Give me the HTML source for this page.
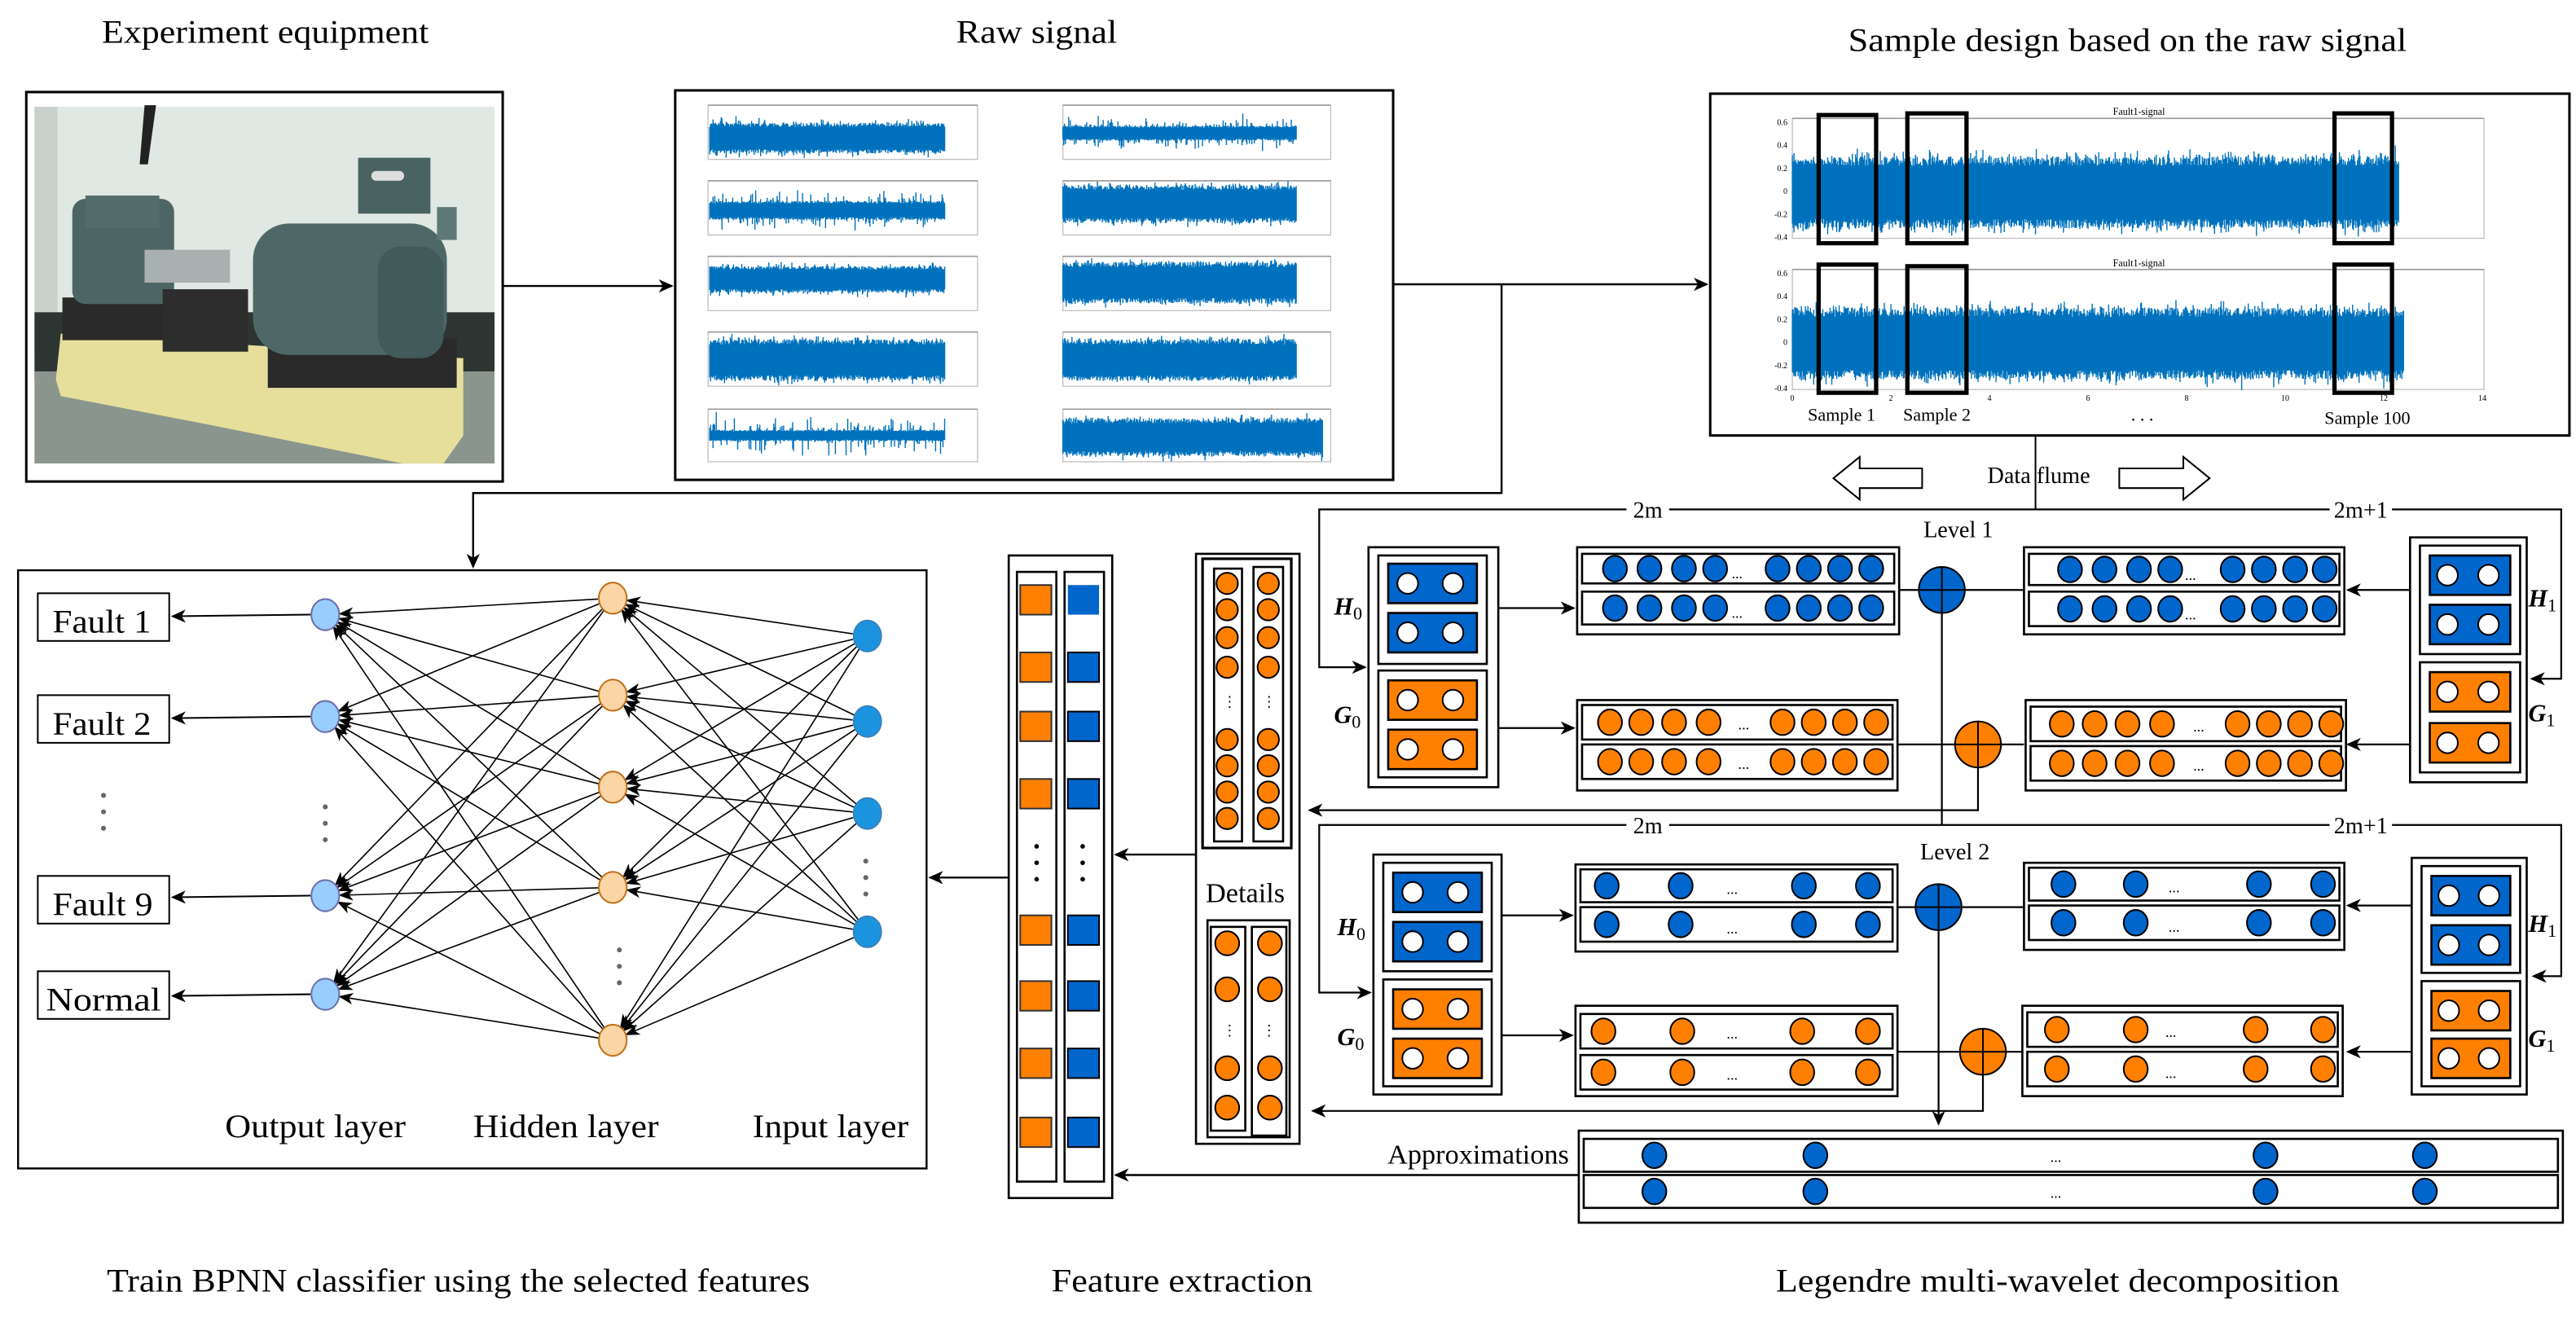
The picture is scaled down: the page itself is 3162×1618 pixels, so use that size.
<!DOCTYPE html>
<html><head><meta charset="utf-8">
<style>
html,body{margin:0;padding:0;background:#fff;width:3162px;height:1618px;overflow:hidden}
svg{display:block}
text{font-family:"Liberation Serif",serif;fill:#000}
</style></head>
<body>
<svg id="s" width="3162" height="1618" viewBox="0 0 1568 802" preserveAspectRatio="none" xmlns="http://www.w3.org/2000/svg">
<defs>
<marker id="a" markerUnits="userSpaceOnUse" markerWidth="10" markerHeight="10" refX="8" refY="4" orient="auto">
<path d="M0,0 L9,4 L0,8 L2.5,4 Z" fill="#000"/></marker>
<marker id="b" markerUnits="userSpaceOnUse" markerWidth="10" markerHeight="10" refX="8" refY="4" orient="auto">
<path d="M0,0.5 L9,4 L0,7.5 L2.5,4 Z" fill="#000"/></marker>
</defs>
<rect width="1568" height="802" fill="#fff"/>

<!-- Titles -->
<text x="62" y="26" font-size="20" textLength="199" lengthAdjust="spacingAndGlyphs">Experiment equipment</text>
<text x="582" y="26" font-size="20" textLength="98" lengthAdjust="spacingAndGlyphs">Raw signal</text>
<text x="1125" y="31" font-size="20" textLength="340" lengthAdjust="spacingAndGlyphs">Sample design based on the raw signal</text>
<text x="65" y="786" font-size="20" textLength="428" lengthAdjust="spacingAndGlyphs">Train BPNN classifier using the selected features</text>
<text x="640" y="786" font-size="20" textLength="159" lengthAdjust="spacingAndGlyphs">Feature extraction</text>
<text x="1081" y="786" font-size="20" textLength="343" lengthAdjust="spacingAndGlyphs">Legendre multi-wavelet decomposition</text>

<!-- Photo -->
<rect x="16" y="56" width="290" height="237" fill="#fff" stroke="#000" stroke-width="1.5"/>
<g id="photo">
<rect x="21" y="65" width="280" height="217" fill="#dfe8e2"/>
<rect x="21" y="65" width="14" height="150" fill="#c9d1cc"/>
<rect x="21" y="190" width="280" height="40" fill="#2c3532"/>
<rect x="21" y="226" width="280" height="56" fill="#8a958e"/>
<polygon points="88,64 95,64 90,100 85,100" fill="#222"/>
<polygon points="34,231 37,203 282,218 282,265 270,282 245,282 125,258 37,241" fill="#e6df9c"/>
<rect x="38" y="181" width="63" height="26" fill="#2a2a2a"/>
<rect x="44" y="121" width="62" height="64" rx="8" fill="#4d6665"/>
<rect x="52" y="119" width="45" height="20" fill="#536d6c"/>
<rect x="88" y="152" width="52" height="20" fill="#a9b0b0"/>
<rect x="99" y="176" width="52" height="38" fill="#2d2d2d"/>
<rect x="163" y="206" width="115" height="30" fill="#2a2a2a"/>
<rect x="154" y="136" width="118" height="80" rx="22" fill="#4f6867"/>
<rect x="230" y="150" width="40" height="68" rx="14" fill="#425a59"/>
<rect x="218" y="96" width="44" height="34" fill="#4a6362"/>
<rect x="226" y="104" width="20" height="6" rx="3" fill="#ddd"/>
<rect x="266" y="126" width="12" height="20" fill="#5f7877"/>
</g>
<line x1="306" y1="174" x2="409" y2="174" stroke="#000" stroke-width="1.2" marker-end="url(#a)"/>

<!-- Raw signal -->
<rect x="411" y="55" width="437" height="237" fill="#fff" stroke="#000" stroke-width="1.5"/>
<g id="raw"></g>

<!-- Sample design -->
<rect x="1041" y="57" width="523" height="208" fill="#fff" stroke="#000" stroke-width="1.5"/>
<g id="samp"></g>
<text x="1302" y="70" font-size="6" text-anchor="middle" fill="#333">Fault1-signal</text>
<text x="1302" y="162" font-size="6" text-anchor="middle" fill="#333">Fault1-signal</text>
<g fill="none" stroke="#000" stroke-width="2.6">
<rect x="1107" y="70" width="35" height="78"/><rect x="1161" y="69" width="36" height="79"/><rect x="1421" y="69" width="35" height="79"/>
<rect x="1107" y="161" width="35" height="78"/><rect x="1161" y="162" width="36" height="77"/><rect x="1421" y="161" width="35" height="78"/>
</g>
<g font-size="11">
<text x="1121" y="256" text-anchor="middle">Sample 1</text>
<text x="1179" y="256" text-anchor="middle">Sample 2</text>
<text x="1304" y="256" text-anchor="middle">. . .</text>
<text x="1441" y="258" text-anchor="middle">Sample 100</text>
</g>
<line x1="848" y1="173" x2="1039" y2="173" stroke="#000" stroke-width="1.2" marker-end="url(#a)"/>
<polyline points="914,173 914,300 288,300 288,345" fill="none" stroke="#000" stroke-width="1.2" marker-end="url(#a)"/>
<line x1="1239" y1="265" x2="1239" y2="310" stroke="#000" stroke-width="1"/>
<text x="1241" y="294" font-size="14" text-anchor="middle">Data flume</text>
<polygon points="1116,291 1132,278 1132,285 1170,285 1170,297 1132,297 1132,304" fill="#fff" stroke="#000" stroke-width="1"/>
<polygon points="1345,291 1329,278 1329,285 1290,285 1290,297 1329,297 1329,304" fill="#fff" stroke="#000" stroke-width="1"/>

<!-- BPNN -->
<rect x="11" y="347" width="553" height="364" fill="#fff" stroke="#000" stroke-width="1.2"/>
<g id="nn"></g>
<g font-size="19" fill="#fff" stroke="#000" stroke-width="1">
<rect x="23" y="361" width="80" height="29"/><rect x="23" y="423" width="80" height="29"/>
<rect x="23" y="533" width="80" height="29"/><rect x="23" y="591" width="80" height="29"/>
</g>
<g font-size="20">
<text x="32" y="385" textLength="60" lengthAdjust="spacingAndGlyphs">Fault 1</text>
<text x="32" y="447" textLength="60" lengthAdjust="spacingAndGlyphs">Fault 2</text>
<text x="32" y="557" textLength="61" lengthAdjust="spacingAndGlyphs">Fault 9</text>
<text x="28" y="615" textLength="70" lengthAdjust="spacingAndGlyphs">Normal</text>
<text x="137" y="692" textLength="110" lengthAdjust="spacingAndGlyphs">Output layer</text>
<text x="288" y="692" textLength="113" lengthAdjust="spacingAndGlyphs">Hidden layer</text>
<text x="458" y="692" textLength="95" lengthAdjust="spacingAndGlyphs">Input layer</text>
</g>
<g fill="#666">
<circle cx="63" cy="484" r="1.5"/><circle cx="63" cy="494" r="1.5"/><circle cx="63" cy="504" r="1.5"/>
<circle cx="198" cy="491" r="1.5"/><circle cx="198" cy="501" r="1.5"/><circle cx="198" cy="511" r="1.5"/>
<circle cx="377" cy="578" r="1.5"/><circle cx="377" cy="588" r="1.5"/><circle cx="377" cy="598" r="1.5"/>
<circle cx="527" cy="524" r="1.5"/><circle cx="527" cy="534" r="1.5"/><circle cx="527" cy="544" r="1.5"/>
</g>
<line x1="619" y1="534" x2="566" y2="534" stroke="#000" stroke-width="1.2" marker-end="url(#a)"/>

<!-- Feature extraction -->
<rect x="614" y="338" width="63" height="391" fill="#fff" stroke="#000" stroke-width="1.3"/>
<rect x="619" y="348" width="24" height="371" fill="#fff" stroke="#000" stroke-width="1.3"/>
<rect x="648" y="348" width="24" height="371" fill="#fff" stroke="#000" stroke-width="1.3"/>
<g id="feat"></g>
<g fill="#000"><circle cx="631" cy="515" r="1.4"/><circle cx="631" cy="525" r="1.4"/><circle cx="631" cy="535" r="1.4"/>
<circle cx="659" cy="515" r="1.4"/><circle cx="659" cy="525" r="1.4"/><circle cx="659" cy="535" r="1.4"/></g>
<line x1="728" y1="520" x2="679" y2="520" stroke="#000" stroke-width="1.2" marker-end="url(#a)"/>
<line x1="961" y1="715" x2="679" y2="715" stroke="#000" stroke-width="1.2" marker-end="url(#a)"/>

<!-- Details -->
<rect x="728" y="337" width="63" height="359" fill="#fff" stroke="#000" stroke-width="1.3"/>
<rect x="732" y="340" width="54" height="176" fill="#fff" stroke="#000" stroke-width="1.6"/>
<rect x="739" y="346" width="17" height="166" fill="#fff" stroke="#000" stroke-width="1.3"/>
<rect x="763" y="345" width="18" height="167" fill="#fff" stroke="#000" stroke-width="1.3"/>
<rect x="735" y="560" width="50" height="132" fill="#fff" stroke="#000" stroke-width="1.3"/>
<rect x="737" y="564" width="21" height="124" fill="#fff" stroke="#000" stroke-width="1.3"/>
<rect x="762" y="564" width="21" height="127" fill="#fff" stroke="#000" stroke-width="1.3"/>
<g id="det"></g>
<text x="758" y="549" font-size="17" text-anchor="middle">Details</text>
<g font-size="9"><text x="744" y="430">⋮</text><text x="768" y="430">⋮</text><text x="744" y="630">⋮</text><text x="768" y="630">⋮</text></g>

<!-- Wavelet -->
<g id="wv"></g>
<g font-size="14">
<rect x="990" y="303" width="26" height="12" fill="#fff"/>
<rect x="1418" y="303" width="38" height="12" fill="#fff"/>
<rect x="990" y="495" width="26" height="12" fill="#fff"/>
<rect x="1418" y="495" width="38" height="12" fill="#fff"/>
<text x="1003" y="315" text-anchor="middle">2m</text>
<text x="1437" y="315" text-anchor="middle">2m+1</text>
<text x="1192" y="327" text-anchor="middle">Level 1</text>
<text x="1003" y="507" text-anchor="middle">2m</text>
<text x="1437" y="507" text-anchor="middle">2m+1</text>
<text x="1190" y="523" text-anchor="middle">Level 2</text>
</g>
<g font-size="15" font-weight="bold" font-style="italic">
<text x="812" y="374">H<tspan font-size="11" font-style="normal" font-weight="normal" dy="3">0</tspan></text>
<text x="812" y="440">G<tspan font-size="11" font-style="normal" font-weight="normal" dy="3">0</tspan></text>
<text x="1539" y="369">H<tspan font-size="11" font-style="normal" font-weight="normal" dy="3">1</tspan></text>
<text x="1539" y="439">G<tspan font-size="11" font-style="normal" font-weight="normal" dy="3">1</tspan></text>
<text x="814" y="569">H<tspan font-size="11" font-style="normal" font-weight="normal" dy="3">0</tspan></text>
<text x="814" y="636">G<tspan font-size="11" font-style="normal" font-weight="normal" dy="3">0</tspan></text>
<text x="1539" y="567">H<tspan font-size="11" font-style="normal" font-weight="normal" dy="3">1</tspan></text>
<text x="1539" y="637">G<tspan font-size="11" font-style="normal" font-weight="normal" dy="3">1</tspan></text>
</g>
<g font-size="9" fill="#333">
<text x="1054" y="352">...</text><text x="1054" y="376">...</text><text x="1058" y="444">...</text><text x="1058" y="468">...</text>
<text x="1330" y="353">...</text><text x="1330" y="377">...</text><text x="1335" y="445">...</text><text x="1335" y="469">...</text>
<text x="1051" y="544">...</text><text x="1051" y="568">...</text><text x="1051" y="632">...</text><text x="1051" y="657">...</text>
<text x="1320" y="543">...</text><text x="1320" y="567">...</text><text x="1318" y="631">...</text><text x="1318" y="656">...</text>
<text x="1248" y="707">...</text><text x="1248" y="729">...</text>
</g>
<text x="955" y="708" font-size="17" text-anchor="end">Approximations</text>
</svg>
<script>
const NS="http://www.w3.org/2000/svg";
function el(p,t,a){const e=document.createElementNS(NS,t);for(const k in a)e.setAttribute(k,a[k]);p.insertBefore(e,null);return e;}
let seed=7;function rnd(){seed=(seed*16807)%2147483647;return seed/2147483647;}
function gauss(){return (rnd()+rnd()+rnd()+rnd()-2)/2;}
function wave(g,x0,x1,cy,core,spike,col){
  let d="";
  for(let x=x0;x<=x1;x+=0.5){
    let a=core*(0.85+0.3*rnd()); let b=core*(0.85+0.3*rnd());
    if(rnd()<0.25){a+=Math.abs(gauss())*spike;}
    if(rnd()<0.25){b+=Math.abs(gauss())*spike;}
    d+=`M${x.toFixed(1)},${(cy-a).toFixed(1)}V${(cy+b).toFixed(1)}`;
  }
  el(g,"path",{d:d,stroke:col||"#0072bd","stroke-width":0.7,fill:"none"});
  el(g,"rect",{x:x0,y:cy-core*0.75,width:x1-x0,height:core*1.5,fill:"#0072bd"});
}
function frame(g,x0,y0,x1,y1){
  el(g,"rect",{x:x0,y:y0,width:x1-x0,height:y1-y0,fill:"none",stroke:"#bbb","stroke-width":0.6});
  el(g,"line",{x1:x0,y1:y0,x2:x1,y2:y0,stroke:"#999","stroke-width":0.8});
}
const raw=document.getElementById("raw");
const L=[[64,97,84,8,6],[110,143,128,5,10],[156,189,170,7,6],[202,235,219,11,5],[249,281,265,3,14]];
const R=[[64,97,81,4,10],[110,143,124,10,5],[156,189,172,11,5],[202,235,219,11,4],[249,281,266,10,5]];
L.forEach(r=>{frame(raw,431,r[0],595,r[1]);wave(raw,432,575,r[2],r[3],r[4]);});
R.forEach((r,i)=>{frame(raw,647,r[0],810,r[1]);wave(raw,647,i==4?805:789,r[2],r[3],r[4]);});
const sp=document.getElementById("samp");
frame(sp,1091,72,1512,145);wave(sp,1091,1460,117,19,10);
frame(sp,1091,164,1512,237);wave(sp,1091,1463,209,19,10);
const yl=["0.6","0.4","0.2","0","-0.2","-0.4"];
yl.forEach((t,i)=>{const a=el(sp,"text",{x:1088,y:76+i*14,"font-size":5,"text-anchor":"end",fill:"#555"});a.textContent=t;
const b=el(sp,"text",{x:1088,y:168+i*14,"font-size":5,"text-anchor":"end",fill:"#555"});b.textContent=t;});
["0","2","4","6","8","10","12","14"].forEach((t,i)=>{const a=el(sp,"text",{x:1091+i*60,y:244,"font-size":5,"text-anchor":"middle",fill:"#555"});a.textContent=t;});
const nn=document.getElementById("nn");
const O=[374,436,545,605],H=[364,423,479,540,633],I=[387,439,495,567];
const ox=198,hx=373,ix=528,r=9;
function arrowLine(x1,y1,x2,y2){const dx=x2-x1,dy=y2-y1,l=Math.hypot(dx,dy);
 el(nn,"line",{x1:x1+dx/l*r,y1:y1+dy/l*r,x2:x2-dx/l*r,y2:y2-dy/l*r,stroke:"#000","stroke-width":0.8,"marker-end":"url(#b)"});}
H.forEach(h=>O.forEach(o=>arrowLine(hx,h,ox,o)));
I.forEach(i=>H.forEach(h=>arrowLine(ix,i,hx,h)));
O.forEach(o=>{el(nn,"line",{x1:ox-r,y1:o,x2:105,y2:o+1,stroke:"#000","stroke-width":1,"marker-end":"url(#a)"});
 el(nn,"ellipse",{cx:ox,cy:o,rx:8.5,ry:9.5,fill:"#99ccff",stroke:"#6b6fa8","stroke-width":1});});
H.forEach(h=>el(nn,"ellipse",{cx:hx,cy:h,rx:8.5,ry:9.5,fill:"#fbd5a5",stroke:"#c0701a","stroke-width":1}));
I.forEach(i=>el(nn,"ellipse",{cx:ix,cy:i,rx:8.5,ry:9.5,fill:"#1c93dd",stroke:"#3a7fb8","stroke-width":0.8}));
const ft=document.getElementById("feat");
[356,397,433,474,557,597,638,680].forEach((y,k)=>{
 el(ft,"rect",{x:621,y:y,width:19,height:18,fill:"#ff8000",stroke:"#333","stroke-width":1});
 el(ft,"rect",{x:650,y:y,width:19,height:18,fill:"#0066cc",stroke:k==0?"none":"#000","stroke-width":1});});
const dt=document.getElementById("det");
[355,371,388,406,450,466,482,498].forEach(y=>{[747,772].forEach(x=>el(dt,"circle",{cx:x,cy:y,r:6.5,fill:"#ff8000",stroke:"#000","stroke-width":1}));});
[574,602,650,674].forEach(y=>{[747,773].forEach(x=>el(dt,"circle",{cx:x,cy:y,r:7.3,fill:"#ff8000",stroke:"#000","stroke-width":1}));});
const wv=document.getElementById("wv");
const BL="#0066cc",OR="#ff8000";
function box(x,y,w,h,sw){el(wv,"rect",{x:x,y:y,width:w,height:h,fill:"#fff",stroke:"#000","stroke-width":sw||1.3});}
function ln(pts,arrow){el(wv,"polyline",{points:pts,fill:"none",stroke:"#000","stroke-width":1.1,"marker-end":arrow?"url(#a)":""});}
function filterBox(ox,oy,ow,oh,ix,iw,grp){
  box(ox,oy,ow,oh);
  grp.forEach(g=>{box(ix,g.y0,iw,g.y1-g.y0);
    g.rects.forEach(rr=>{el(wv,"rect",{x:ix+6,y:rr,width:iw-12,height:24,fill:g.c,stroke:"#000","stroke-width":1.3});
      el(wv,"circle",{cx:ix+6+(iw-12)*0.22,cy:rr+12,r:6.3,fill:"#fff",stroke:"#000","stroke-width":1});
      el(wv,"circle",{cx:ix+6+(iw-12)*0.73,cy:rr+12,r:6.3,fill:"#fff",stroke:"#000","stroke-width":1});});});
}
function rowBox(x,y,w,h,rows,xs,col,rr){
  box(x,y,w,h);
  rows.forEach(r=>{box(x+3,r[0],w-6,r[1]-r[0]);
    xs.forEach(cx=>el(wv,"ellipse",{cx:cx,cy:(r[0]+r[1])/2,rx:rr||7.3,ry:(rr||7.3)+0.5,fill:col,stroke:"#000","stroke-width":1}));});
}
function plus(cx,cy,col){el(wv,"ellipse",{cx:cx,cy:cy,rx:14,ry:14,fill:col,stroke:"#000","stroke-width":1});
 el(wv,"line",{x1:cx-14,y1:cy,x2:cx+14,y2:cy,stroke:"#000","stroke-width":1});
 el(wv,"line",{x1:cx,y1:cy-14,x2:cx,y2:cy+14,stroke:"#000","stroke-width":1});}
ln("1239,310 803,310 803,406 831,406",true);
ln("1239,310 1559,310 1559,413 1541,413",true);
ln("912,370 958,370",true);ln("912,443 958,443",true);
ln("1468,359 1429,359",true);ln("1468,453 1429,453",true);
ln("1156,359 1232,359");ln("1155,453 1232,453");
ln("1182,359 1182,502");
ln("1204,453 1204,493 797,493",true);
ln("1182,502 803,502 803,604 834,604",true);
ln("1182,502 1559,502 1559,594 1542,594",true);
ln("914,557 957,557",true);ln("914,630 957,630",true);
ln("1469,551 1429,551",true);ln("1469,640 1429,640",true);
ln("1155,552 1232,552");ln("1155,640 1232,640");
ln("1180,552 1180,684",true);
ln("1207,640 1207,676 799,676",true);
filterBox(833,333,79,146,839,66,[{y0:338,y1:404,c:BL,rects:[343,373]},{y0:408,y1:473,c:OR,rects:[414,444]}]);
filterBox(1467,327,71,149,1473,61,[{y0:332,y1:398,c:BL,rects:[338,368]},{y0:403,y1:470,c:OR,rects:[409,440]}]);
rowBox(960,333,196,53,[[337,355],[360,380]],[983,1004,1025,1044,1082,1101,1120,1139],BL);
rowBox(960,426,195,55,[[429,450],[453,474]],[980,999,1019,1040,1085,1104,1123,1142],OR);
rowBox(1232,333,195,53,[[337,356],[360,381]],[1260,1281,1302,1321,1359,1378,1397,1415],BL);
rowBox(1233,426,195,55,[[430,451],[454,475]],[1255,1275,1295,1316,1362,1381,1400,1419],OR);
plus(1182,359,BL);plus(1204,453,OR);
filterBox(836,520,78,146,842,66,[{y0:525,y1:591,c:BL,rects:[531,561]},{y0:596,y1:661,c:OR,rects:[602,632]}]);
filterBox(1468,522,70,144,1474,60,[{y0:527,y1:592,c:BL,rects:[533,563]},{y0:597,y1:661,c:OR,rects:[603,632]}]);
rowBox(959,526,196,53,[[529,549],[552,573]],[978,1023,1098,1137],BL);
rowBox(959,612,196,55,[[617,638],[642,663]],[976,1024,1097,1137],OR);
rowBox(1232,525,195,53,[[528,548],[551,572]],[1256,1300,1375,1414],BL);
rowBox(1231,612,195,55,[[616,637],[640,661]],[1252,1300,1373,1414],OR);
plus(1180,552,BL);plus(1207,640,OR);
rowBox(961,688,599,56,[[693,713],[715,735]],[1007,1105,1379,1476],BL);
// move the 2m label backgrounds and labels above lines
const s=document.getElementById("s");
s.querySelectorAll("g[font-size='14']").forEach(g=>s.appendChild(g));
</script>
</body></html>
